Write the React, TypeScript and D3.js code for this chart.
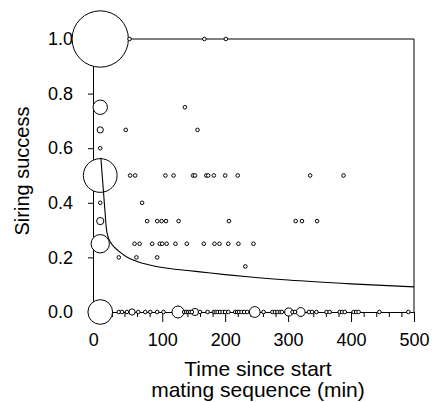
import { useRef, useEffect } from 'react'
import * as d3 from 'd3'

const W = 432
const H = 402
const FONT = 'Liberation Sans, Arial, Helvetica, sans-serif'

// [time (min), number of observations] per siring-success level
const AT_100 = [[1.5, 245], [48, 1], [167, 1], [201, 1]]
const AT_075 = [[1.5, 16], [136, 1]]
const AT_067 = [[1.5, 3], [42, 1], [156, 1]]
const AT_060 = [[1.5, 1]]
const AT_050 = [[1.5, 88], [49, 1], [57, 1], [105, 1], [118, 1], [149, 1], [152, 1], [170, 1], [173, 1], [182, 1], [200, 1], [220, 1], [335, 1], [388, 1]]
const AT_040 = [[1.5, 1], [68, 1]]
const AT_033 = [[1.5, 4], [76, 1], [92, 1], [99, 1], [106, 1], [126, 1], [206, 1], [312, 1], [322, 1], [346, 1]]
const AT_025 = [[1.5, 26], [56, 1], [64, 1], [84, 1], [96, 1], [100, 1], [107, 1], [121, 1], [139, 1], [166, 1], [183, 1], [191, 1], [205, 1], [221, 1], [245, 1]]
const AT_020 = [[31, 1], [59, 1], [92, 1]]
const AT_017 = [[232, 1]]
const AT_000 = [
  [1.5, 47], [31, 1], [36, 1], [44, 1], [52, 3], [62, 1], [73, 1], [81, 1], [92, 1], [102, 1],
  [125, 11], [135, 1], [138, 1], [141, 1], [144, 1], [147, 1], [152, 4], [160, 1], [172, 1],
  [182, 1], [185, 1], [188, 1], [192, 1], [196, 1], [200, 1], [205, 1], [216, 1], [219, 1],
  [222, 1], [226, 1], [230, 1], [235, 1], [247, 9], [261, 1], [275, 1], [279, 1], [283, 1],
  [287, 1], [290, 1], [301, 5], [307, 1], [311, 1], [320, 6], [333, 1], [338, 1], [345, 1],
  [361, 1], [366, 1], [382, 1], [386, 1], [390, 1], [404, 1], [408, 1], [412, 1], [445, 1], [491, 1],
]

const LEVELS = [
  { y: 1, pts: AT_100 },
  { y: 0.75, pts: AT_075 },
  { y: 0.667, pts: AT_067 },
  { y: 0.6, pts: AT_060 },
  { y: 0.5, pts: AT_050 },
  { y: 0.4, pts: AT_040 },
  { y: 0.333, pts: AT_033 },
  { y: 0.25, pts: AT_025 },
  { y: 0.2, pts: AT_020 },
  { y: 0.167, pts: AT_017 },
  { y: 0, pts: AT_000 },
]

// fitted curve
const FIT_X = [2.5, 5, 7, 9, 11, 14, 20, 30, 45, 60, 80, 100, 140, 160, 200, 240, 300, 400, 500]
const FIT_Y = [0.565, 0.49, 0.43, 0.37, 0.31, 0.275, 0.248, 0.225, 0.2, 0.185, 0.172, 0.163, 0.152, 0.147, 0.137, 0.128, 0.117, 0.103, 0.092]

const X_TICKS = [0, 100, 200, 300, 400, 500]
const Y_TICKS = [0, 0.2, 0.4, 0.6, 0.8, 1.0]

export default function App() {
  const svgRef = useRef(null)

  useEffect(() => {
    const svg = d3.select(svgRef.current)
    svg.selectAll('*').remove()

    const x = d3.scaleLinear().domain([-10, 500]).range([93, 414])
    const y = d3.scaleLinear().domain([0, 1]).range([312, 39])
    const r = d3.scaleSqrt().domain([0, 1]).range([0, 1.8])

    // frame
    svg.append('path')
      .attr('d', `M${x(-10)},${y(1)}H${x(500)}V${y(0)}`)
      .attr('fill', 'none').attr('stroke', '#000').attr('stroke-width', 1)

    const yAxis = svg.append('g')
      .attr('transform', `translate(${x(-10)},0)`)
      .call(d3.axisLeft(y).tickValues(Y_TICKS).tickSize(5).tickPadding(15).tickFormat(d3.format('.1f')))
    yAxis.selectAll('text').attr('font-family', FONT).attr('font-size', 18).attr('fill', '#000')

    const minor = d3.range(20, 500, 20).filter(v => v % 100 !== 0)
    svg.append('g')
      .attr('transform', `translate(0,${y(0)})`)
      .call(d3.axisBottom(x).tickValues(minor).tickSize(5).tickFormat(() => ''))
      .call(g => g.select('.domain').remove())

    const xAxis = svg.append('g')
      .attr('transform', `translate(0,${y(0)})`)
      .call(d3.axisBottom(x).tickValues(X_TICKS).tickSize(10).tickPadding(11).tickSizeOuter(0))
    xAxis.selectAll('text').attr('font-family', FONT).attr('font-size', 18).attr('fill', '#000')
    xAxis.selectAll('text').filter(d => d === 0).attr('dx', -6)

    // bubbles
    const pts = LEVELS.flatMap(l => l.pts.map(([t, n]) => ({ t, n, s: l.y })))
    pts.sort((a, b) => b.n - a.n)
    svg.append('g').selectAll('circle').data(pts).join('circle')
      .attr('cx', d => x(d.t)).attr('cy', d => y(d.s)).attr('r', d => r(d.n))
      .attr('fill', '#fff').attr('stroke', '#000').attr('stroke-width', 1)

    // fitted curve
    const fit = FIT_X.map((v, i) => [v, FIT_Y[i]])
    svg.append('path').datum(fit)
      .attr('d', d3.line().x(d => x(d[0])).y(d => y(d[1])).curve(d3.curveMonotoneX))
      .attr('fill', 'none').attr('stroke', '#000').attr('stroke-width', 1.1)

    // titles
    svg.append('text')
      .attr('transform', `translate(29,171) rotate(-90)`)
      .attr('text-anchor', 'middle').attr('font-family', FONT).attr('font-size', 20)
      .text('Siring success')

    const tx = svg.append('text')
      .attr('text-anchor', 'middle').attr('font-family', FONT).attr('font-size', 21)
    tx.append('tspan').attr('x', 258).attr('y', 376).text('Time since start')
    tx.append('tspan').attr('x', 258).attr('y', 397).text('mating sequence (min)')
  }, [])

  return (
    <svg ref={svgRef} width={W} height={H}
      style={{ position: 'absolute', left: 0, top: 0, background: '#fff' }} />
  )
}
